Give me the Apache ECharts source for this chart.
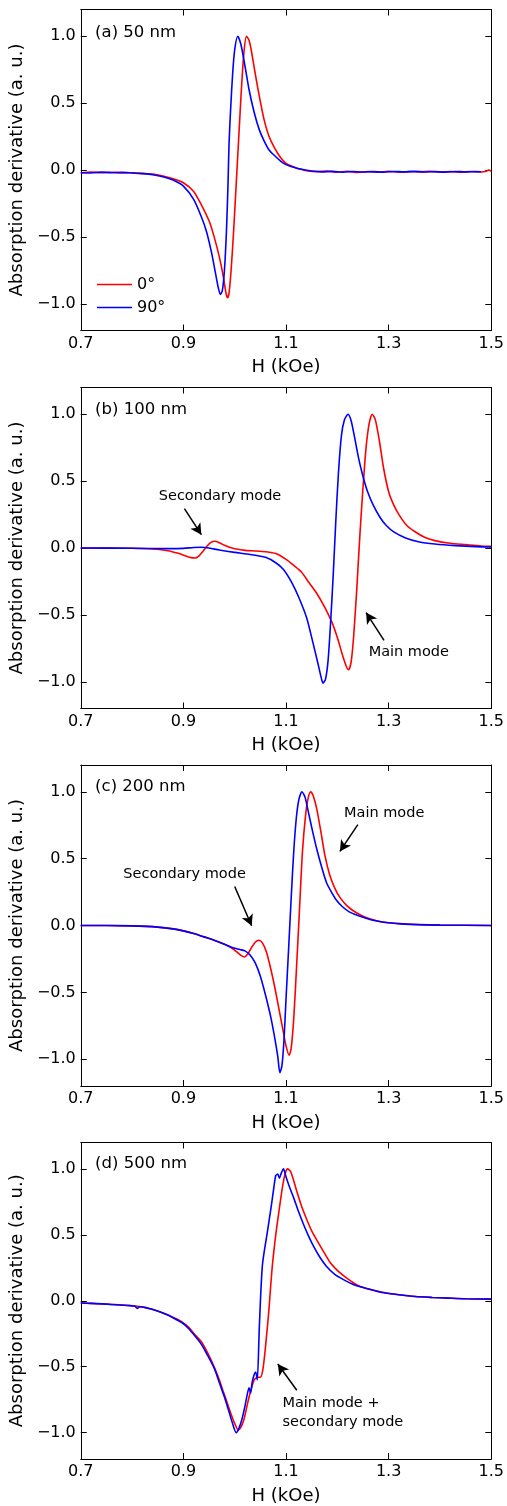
<!DOCTYPE html>
<html><head><meta charset="utf-8">
<script src="https://cdn.jsdelivr.net/npm/echarts@6/dist/echarts.min.js"></script>
<style>html,body{margin:0;padding:0;background:#fff}#c{width:507px;height:1506px}</style>
</head><body><div id="c"></div>
<script>
// ---- data (H in kOe, absorption derivative in a.u.) ----
const xTicks = [0.7, 0.9, 1.1, 1.3, 1.5];
const yTicks = [-1.0, -0.5, 0.0, 0.5, 1.0];
const seriesNames = ['0°', '90°'];
const panelLabels = ['(a) 50 nm', '(b) 100 nm', '(c) 200 nm', '(d) 500 nm'];

const a0 = [[0.70,-0.02],[0.72,-0.015],[0.74,-0.021],[0.76,-0.017],[0.78,-0.022],[0.80,-0.02],[0.82,-0.025],[0.84,-0.03],[0.86,-0.045],[0.88,-0.065],[0.90,-0.095],[0.92,-0.16],[0.935,-0.26],[0.95,-0.38],[0.96,-0.5],[0.97,-0.65],[0.978,-0.8],[0.983,-0.92],[0.986,-0.955],[0.989,-0.92],[0.993,-0.75],[0.998,-0.45],[1.003,-0.1],[1.008,0.25],[1.013,0.6],[1.018,0.88],[1.023,1.0],[1.028,0.97],[1.033,0.88],[1.04,0.72],[1.048,0.55],[1.057,0.38],[1.066,0.26],[1.077,0.17],[1.09,0.09],[1.10,0.05],[1.11,0.03],[1.12,0.015],[1.13,0.005],[1.14,-0.005],[1.16,-0.012],[1.18,-0.008],[1.20,-0.016],[1.22,-0.01],[1.24,-0.018],[1.26,-0.012],[1.28,-0.016],[1.30,-0.01],[1.32,-0.017],[1.34,-0.012],[1.36,-0.015],[1.38,-0.01],[1.40,-0.016],[1.42,-0.012],[1.44,-0.017],[1.46,-0.011],[1.48,-0.015],[1.49,-0.01],[1.495,0.0],[1.50,-0.01]];
const a90 = [[0.70,-0.02],[0.72,-0.022],[0.74,-0.016],[0.76,-0.02],[0.78,-0.018],[0.80,-0.022],[0.82,-0.027],[0.84,-0.035],[0.86,-0.05],[0.88,-0.075],[0.90,-0.12],[0.92,-0.22],[0.935,-0.35],[0.945,-0.46],[0.955,-0.62],[0.963,-0.78],[0.968,-0.88],[0.972,-0.93],[0.976,-0.9],[0.98,-0.75],[0.984,-0.45],[0.987,-0.1],[0.989,0.2],[0.992,0.45],[0.996,0.72],[1.0,0.9],[1.006,1.0],[1.012,0.94],[1.019,0.8],[1.028,0.6],[1.038,0.43],[1.048,0.3],[1.057,0.22],[1.067,0.15],[1.077,0.11],[1.09,0.065],[1.10,0.04],[1.115,0.02],[1.13,0.005],[1.15,-0.008],[1.17,-0.014],[1.19,-0.01],[1.21,-0.016],[1.23,-0.011],[1.25,-0.015],[1.27,-0.012],[1.29,-0.016],[1.31,-0.011],[1.33,-0.014],[1.35,-0.01],[1.37,-0.015],[1.39,-0.012],[1.41,-0.016],[1.43,-0.011],[1.45,-0.014],[1.47,-0.012],[1.48,-0.013]];

const b0 = [[0.70,0],[0.75,0],[0.80,-0.002],[0.84,-0.008],[0.87,-0.02],[0.89,-0.04],[0.905,-0.06],[0.915,-0.072],[0.923,-0.075],[0.93,-0.06],[0.937,-0.03],[0.945,0.01],[0.953,0.04],[0.961,0.05],[0.97,0.04],[0.98,0.02],[0.99,0.005],[1.0,-0.005],[1.02,-0.018],[1.04,-0.022],[1.06,-0.028],[1.08,-0.042],[1.10,-0.085],[1.115,-0.13],[1.13,-0.18],[1.145,-0.26],[1.16,-0.34],[1.175,-0.44],[1.19,-0.56],[1.20,-0.67],[1.21,-0.8],[1.217,-0.88],[1.222,-0.91],[1.227,-0.85],[1.232,-0.65],[1.238,-0.3],[1.244,0.1],[1.25,0.45],[1.256,0.75],[1.262,0.93],[1.268,1.0],[1.274,0.96],[1.282,0.8],[1.29,0.6],[1.30,0.42],[1.31,0.32],[1.32,0.25],[1.335,0.17],[1.35,0.125],[1.37,0.08],[1.39,0.055],[1.42,0.035],[1.45,0.025],[1.48,0.015],[1.50,0.012]];
const b90 = [[0.70,0],[0.80,-0.002],[0.87,-0.005],[0.90,-0.003],[0.92,0.004],[0.935,0.006],[0.95,0],[0.97,-0.015],[1.0,-0.033],[1.03,-0.048],[1.06,-0.07],[1.08,-0.11],[1.095,-0.16],[1.11,-0.25],[1.125,-0.37],[1.14,-0.52],[1.152,-0.7],[1.162,-0.86],[1.168,-0.96],[1.172,-1.01],[1.177,-0.98],[1.182,-0.84],[1.187,-0.55],[1.192,-0.2],[1.197,0.2],[1.202,0.55],[1.208,0.84],[1.214,0.96],[1.221,1.0],[1.227,0.95],[1.233,0.84],[1.241,0.68],[1.249,0.55],[1.259,0.42],[1.27,0.32],[1.283,0.23],[1.295,0.17],[1.31,0.12],[1.333,0.075],[1.36,0.045],[1.39,0.03],[1.43,0.018],[1.47,0.01],[1.50,0.008]];

const c0 = [[0.70,0],[0.75,0],[0.80,-0.003],[0.85,-0.012],[0.88,-0.025],[0.90,-0.04],[0.92,-0.06],[0.94,-0.085],[0.96,-0.11],[0.98,-0.14],[0.995,-0.17],[1.005,-0.2],[1.013,-0.225],[1.019,-0.235],[1.025,-0.215],[1.032,-0.17],[1.04,-0.125],[1.047,-0.11],[1.054,-0.13],[1.062,-0.2],[1.07,-0.32],[1.078,-0.46],[1.086,-0.62],[1.094,-0.78],[1.10,-0.9],[1.106,-0.97],[1.11,-0.92],[1.115,-0.7],[1.12,-0.35],[1.126,0.1],[1.132,0.55],[1.138,0.82],[1.143,0.95],[1.148,1.0],[1.153,0.97],[1.16,0.87],[1.168,0.7],[1.176,0.52],[1.185,0.38],[1.195,0.28],[1.205,0.21],[1.218,0.15],[1.231,0.11],[1.247,0.075],[1.263,0.05],[1.28,0.032],[1.30,0.02],[1.35,0.008],[1.40,0.003],[1.50,0.0]];
const c90 = [[0.70,0],[0.75,0],[0.80,-0.003],[0.85,-0.012],[0.88,-0.025],[0.90,-0.04],[0.92,-0.06],[0.94,-0.085],[0.96,-0.11],[0.98,-0.14],[0.995,-0.165],[1.01,-0.18],[1.02,-0.19],[1.03,-0.22],[1.04,-0.28],[1.05,-0.38],[1.06,-0.52],[1.07,-0.68],[1.078,-0.84],[1.084,-0.98],[1.088,-1.1],[1.092,-1.05],[1.096,-0.86],[1.10,-0.55],[1.105,-0.18],[1.11,0.2],[1.115,0.55],[1.12,0.8],[1.125,0.94],[1.131,1.0],[1.137,0.96],[1.144,0.84],[1.152,0.7],[1.16,0.57],[1.17,0.43],[1.179,0.32],[1.19,0.24],[1.198,0.19],[1.21,0.14],[1.224,0.1],[1.24,0.075],[1.256,0.055],[1.275,0.035],[1.295,0.022],[1.33,0.01],[1.40,0.003],[1.50,0]];

const d0 = [[0.70,-0.017],[0.72,-0.02],[0.743,-0.025],[0.76,-0.028],[0.775,-0.03],[0.79,-0.034],[0.807,-0.04],[0.82,-0.048],[0.839,-0.065],[0.855,-0.085],[0.871,-0.11],[0.885,-0.135],[0.897,-0.16],[0.91,-0.2],[0.923,-0.26],[0.935,-0.31],[0.948,-0.4],[0.961,-0.51],[0.97,-0.6],[0.977,-0.68],[0.985,-0.77],[0.993,-0.86],[1.0,-0.93],[1.007,-0.98],[1.012,-0.96],[1.018,-0.9],[1.025,-0.78],[1.03,-0.7],[1.038,-0.6],[1.045,-0.58],[1.05,-0.58],[1.055,-0.52],[1.06,-0.35],[1.066,-0.1],[1.073,0.25],[1.08,0.5],[1.087,0.7],[1.093,0.86],[1.098,0.96],[1.103,1.0],[1.109,0.98],[1.115,0.91],[1.121,0.83],[1.13,0.72],[1.141,0.61],[1.15,0.53],[1.16,0.46],[1.172,0.38],[1.186,0.29],[1.20,0.23],[1.212,0.19],[1.228,0.145],[1.243,0.11],[1.265,0.085],[1.288,0.065],[1.32,0.045],[1.352,0.032],[1.385,0.025],[1.416,0.02],[1.45,0.015],[1.50,0.012]];
const d90 = [[0.70,-0.017],[0.72,-0.02],[0.743,-0.024],[0.76,-0.028],[0.775,-0.032],[0.79,-0.036],[0.805,-0.04],[0.81,-0.058],[0.815,-0.045],[0.825,-0.05],[0.839,-0.065],[0.855,-0.085],[0.871,-0.11],[0.885,-0.14],[0.897,-0.165],[0.91,-0.21],[0.923,-0.27],[0.935,-0.33],[0.948,-0.42],[0.961,-0.52],[0.97,-0.62],[0.98,-0.73],[0.988,-0.83],[0.995,-0.92],[1.003,-1.0],[1.008,-0.97],[1.014,-0.9],[1.02,-0.8],[1.025,-0.7],[1.028,-0.66],[1.031,-0.7],[1.034,-0.62],[1.038,-0.56],[1.041,-0.54],[1.044,-0.6],[1.048,-0.2],[1.054,0.27],[1.064,0.53],[1.071,0.71],[1.076,0.85],[1.08,0.95],[1.084,0.96],[1.087,0.93],[1.091,0.97],[1.095,1.0],[1.10,0.94],[1.107,0.86],[1.115,0.78],[1.124,0.68],[1.134,0.58],[1.144,0.49],[1.154,0.41],[1.166,0.33],[1.179,0.26],[1.195,0.2],[1.212,0.16],[1.23,0.125],[1.25,0.1],[1.27,0.08],[1.288,0.062],[1.32,0.045],[1.352,0.032],[1.385,0.025],[1.416,0.02],[1.45,0.015],[1.50,0.012]];

const panelData = [[a0, a90], [b0, b90], [c0, c90], [d0, d90]];

// annotations: [panel, text, textAnchor [H, value], arrowFrom, arrowTo]
const notes = [
  [1, 'Secondary mode', [0.852, 0.389], [0.902, 0.294], [0.935, 0.10]],
  [1, 'Main mode', [1.261, -0.777], [1.291, -0.69], [1.256, -0.483]],
  [2, 'Main mode', [1.213, 0.836], [1.240, 0.754], [1.205, 0.554]],
  [2, 'Secondary mode', [0.783, 0.387], [1.000, 0.292], [1.033, -0.002]],
  [3, 'Main mode +\nsecondary mode', [1.093, -0.849], [1.121, -0.679], [1.084, -0.48]]
];
const labelPos = [[0.728, 1.03], [0.728, 1.034], [0.728, 1.04], [0.728, 1.04]];

// ---- layout ----
const FONT = 'DejaVu Sans';
const tops = [9.5, 387.5, 765, 1142.5];
const H = 321;
const colors = ['#ff0000', '#0000ff'];
const fmt = v => (v < 0 ? '\u2212' : '') + Math.abs(v).toFixed(1);

const grids = [], xAxes = [], yAxes = [], series = [];
tops.forEach((t, i) => {
  grids.push({ left: 78, right: 14, top: t, height: H, show: false });
  const baseX = {
    gridIndex: i, type: 'value', min: 0.7, max: 1.5,
    axisLine: { show: true, onZero: false, lineStyle: { color: '#000', width: 1 } },
    axisTick: { show: true, inside: true, length: 6, customValues: xTicks, lineStyle: { color: '#000' } },
    splitLine: { show: false }
  };
  xAxes.push(Object.assign({}, baseX, {
    position: 'bottom',
    axisLabel: { show: true, customValues: xTicks, formatter: v => v.toFixed(1), color: '#000', fontFamily: FONT, fontSize: 16, margin: 5 },
    name: 'H (kOe)', nameLocation: 'middle', nameGap: 28,
    nameTextStyle: { color: '#000', fontFamily: FONT, fontSize: 18 }
  }));
  xAxes.push(Object.assign({}, baseX, { position: 'top', axisLabel: { show: false } }));
  const baseY = {
    gridIndex: i, type: 'value', min: -1.2, max: 1.2,
    axisLine: { show: true, onZero: false, lineStyle: { color: '#000', width: 1 } },
    axisTick: { show: true, inside: true, length: 6, customValues: yTicks, lineStyle: { color: '#000' } },
    splitLine: { show: false }
  };
  yAxes.push(Object.assign({}, baseY, {
    position: 'left',
    axisLabel: { show: true, customValues: yTicks, formatter: fmt, color: '#000', fontFamily: FONT, fontSize: 16, margin: 5 },
    name: 'Absorption derivative (a. u.)', nameLocation: 'middle', nameGap: 45,
    nameTextStyle: { color: '#000', fontFamily: FONT, fontSize: 18 }
  }));
  yAxes.push(Object.assign({}, baseY, { position: 'right', axisLabel: { show: false } }));

  panelData[i].forEach((d, k) => {
    const s = {
      type: 'line', name: seriesNames[k], data: d,
      xAxisIndex: 2 * i, yAxisIndex: 2 * i,
      symbol: 'none', smooth: 0.25, animation: false,
      lineStyle: { color: colors[k], width: 1.6 }, itemStyle: { color: colors[k] },
      z: 2 + k
    };
    if (k === 0) {
      const mine = notes.filter(n => n[0] === i);
      s.markPoint = {
        symbol: 'rect', symbolSize: 0, silent: true, animation: false,
        label: { show: true, position: 'inside', align: 'left', verticalAlign: 'middle', color: '#000', fontFamily: FONT, fontSize: 14.5, lineHeight: 19, formatter: p => p.name },
        data: [{ name: panelLabels[i], coord: labelPos[i], label: { fontSize: 16.5 } }]
          .concat(mine.map(n => ({ name: n[1], coord: n[2] })))
      };
      if (mine.length) {
        s.markLine = {
          silent: true, animation: false, symbol: ['none', 'arrow'], symbolSize: [9, 11],
          label: { show: false },
          lineStyle: { color: '#000', width: 1.5, type: 'solid' },
          data: mine.map(n => [{ coord: n[3] }, { coord: n[4] }])
        };
      }
    }
    series.push(s);
  });
});

const chart = echarts.init(document.getElementById('c'), null, { renderer: 'canvas' });
chart.setOption({
  animation: false,
  backgroundColor: '#fff',
  grid: grids, xAxis: xAxes, yAxis: yAxes, series: series,
  legend: {
    data: seriesNames.map((n, k) => ({ name: n, icon: 'rect', itemStyle: { color: colors[k] } })),
    orient: 'vertical', left: 92, top: 270,
    itemWidth: 35, itemHeight: 1.5, itemGap: 4, selectedMode: false,
    textStyle: { color: '#000', fontFamily: FONT, fontSize: 16, lineHeight: 19 }
  }
});
</script></body></html>
